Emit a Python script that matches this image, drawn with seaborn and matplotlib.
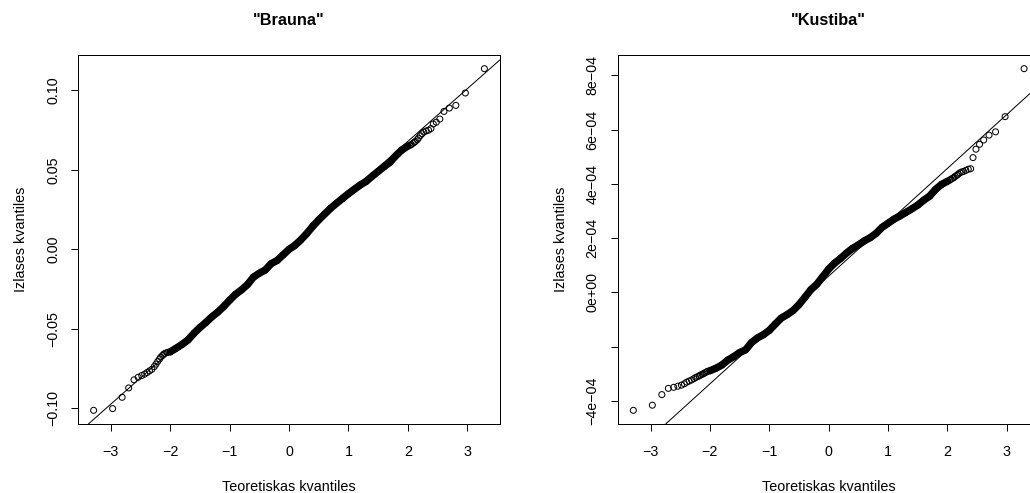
import numpy as np
import pandas as pd
import matplotlib
matplotlib.use("Agg")
import matplotlib.pyplot as plt
import seaborn as sns

# Theoretical normal quantiles (n = 1000) for the sparse tails, and the grid
# used for the dense middle section of each Q-Q plot.
theor_lo = [-3.29, -2.97, -2.81, -2.70, -2.61, -2.54, -2.48, -2.43, -2.39, -2.35,
            -2.31, -2.27, -2.24, -2.21, -2.18, -2.16, -2.13, -2.11, -2.09, -2.06, -2.04]
theor_core = [-2.0, -1.9, -1.8, -1.7, -1.6, -1.5, -1.4, -1.3, -1.2, -1.1, -1.0,
              -0.9, -0.8, -0.7, -0.6, -0.5, -0.4, -0.3, -0.2, -0.1, 0.0,
              0.1, 0.2, 0.3, 0.4, 0.5, 0.6, 0.7, 0.8, 0.9, 1.0,
              1.1, 1.2, 1.3, 1.4, 1.5, 1.6, 1.7, 1.8, 1.9, 2.0]
theor_hi = [2.04, 2.06, 2.09, 2.11, 2.13, 2.16, 2.18, 2.21, 2.24, 2.27, 2.31,
            2.35, 2.39, 2.43, 2.48, 2.54, 2.61, 2.70, 2.81, 2.97, 3.29]

# "Brauna" sample quantiles
brauna_lo = [-0.1013, -0.1002, -0.0931, -0.0872, -0.0821, -0.0805, -0.0794, -0.0785,
             -0.0775, -0.0765, -0.0755, -0.0738, -0.0722, -0.0705, -0.0690, -0.0678,
             -0.0668, -0.0660, -0.0655, -0.0650, -0.0648]
brauna_core = [-0.0645, -0.0622, -0.0598, -0.0570, -0.0528, -0.0492, -0.0460, -0.0425,
               -0.0395, -0.0360, -0.0320, -0.0283, -0.0255, -0.0222, -0.0175, -0.0150,
               -0.0130, -0.0090, -0.0070, -0.0035, 0.0000, 0.0025, 0.0060, 0.0100,
               0.0145, 0.0185, 0.0222, 0.0258, 0.0290, 0.0320, 0.0350, 0.0378, 0.0405,
               0.0428, 0.0460, 0.0490, 0.0520, 0.0548, 0.0590, 0.0625, 0.0650]
brauna_hi = [0.0655, 0.0660, 0.0668, 0.0674, 0.0680, 0.0690, 0.0700, 0.0715, 0.0728,
             0.0738, 0.0745, 0.0750, 0.0760, 0.0789, 0.0800, 0.0820, 0.0868, 0.0889,
             0.0906, 0.0984, 0.1137]

# "Kustiba" sample quantiles
kustiba_lo = [-4.35e-4, -4.16e-4, -3.77e-4, -3.54e-4, -3.50e-4, -3.46e-4, -3.42e-4,
              -3.37e-4, -3.31e-4, -3.27e-4, -3.23e-4, -3.18e-4, -3.14e-4, -3.11e-4,
              -3.08e-4, -3.05e-4, -3.02e-4, -3.00e-4, -2.97e-4, -2.94e-4, -2.91e-4]
kustiba_core = [-2.89e-4, -2.80e-4, -2.68e-4, -2.50e-4, -2.37e-4, -2.22e-4, -2.12e-4,
                -1.85e-4, -1.68e-4, -1.56e-4, -1.40e-4, -1.17e-4, -0.95e-4, -0.82e-4,
                -0.67e-4, -0.45e-4, -0.18e-4, 0.10e-4, 0.30e-4, 0.58e-4, 0.86e-4,
                1.08e-4, 1.25e-4, 1.45e-4, 1.62e-4, 1.75e-4, 1.90e-4, 2.02e-4, 2.18e-4,
                2.40e-4, 2.55e-4, 2.70e-4, 2.82e-4, 2.95e-4, 3.08e-4, 3.22e-4, 3.40e-4,
                3.55e-4, 3.80e-4, 3.98e-4, 4.10e-4]
kustiba_hi = [4.14e-4, 4.18e-4, 4.21e-4, 4.24e-4, 4.28e-4, 4.32e-4, 4.36e-4, 4.41e-4,
              4.44e-4, 4.46e-4, 4.50e-4, 4.54e-4, 4.56e-4, 4.97e-4, 5.28e-4, 5.46e-4,
              5.62e-4, 5.80e-4, 5.92e-4, 6.48e-4, 8.25e-4]

# Reference-line anchors: sample quartiles at the theoretical quartiles
theor_quartiles = [-0.6745, 0.6745]
brauna_quartiles = [-0.0205, 0.0241]
kustiba_quartiles = [-0.74e-4, 1.94e-4]

titles = ['"Brauna"', '"Kustiba"']
x_ticks = [-3, -2, -1, 0, 1, 2, 3]
brauna_yticks = [-0.10, -0.05, 0.00, 0.05, 0.10]
brauna_ylabels = ["\u22120.10", "\u22120.05", "0.00", "0.05", "0.10"]
kustiba_yticks = [-4e-4, -2e-4, 0.0, 2e-4, 4e-4, 6e-4, 8e-4]
kustiba_ylabels = ["\u22124e\u221204", "", "0e+00", "2e\u221204", "4e\u221204",
                   "6e\u221204", "8e\u221204"]

sns.set_theme(style="white")
plt.rcParams["font.family"] = ["Liberation Sans", "DejaVu Sans"]

PX = 0.72  # one pixel in points at 100 dpi
fig = plt.figure(figsize=(10.30, 4.93), dpi=100)
W, H = 1030.0, 493.0
axes = [fig.add_axes([78 / W, 69 / H, 422 / W, 369 / H]),
        fig.add_axes([617.7 / W, 69 / H, 422 / W, 369 / H])]


def build_frame(lo, core, hi):
    return pd.DataFrame({
        "theor": theor_lo + theor_core + theor_hi,
        "sample": lo + core + hi,
        "part": ["tail"] * len(lo) + ["core"] * len(core) + ["tail"] * len(hi),
    })


panels = [
    (build_frame(brauna_lo, brauna_core, brauna_hi), brauna_quartiles,
     brauna_yticks, brauna_ylabels),
    (build_frame(kustiba_lo, kustiba_core, kustiba_hi), kustiba_quartiles,
     kustiba_yticks, kustiba_ylabels),
]

for ax, title, (df, quart, yt, yl) in zip(axes, titles, panels):
    core = df[df["part"] == "core"]
    # overplotted middle section renders as a solid band
    sns.lineplot(data=core, x="theor", y="sample", ax=ax, sort=False, estimator=None,
                 color="black", linewidth=7.4 * PX, solid_capstyle="round")
    sns.scatterplot(data=df, x="theor", y="sample", ax=ax, marker="o",
                    facecolor="none", edgecolor="black", linewidth=1.0 * PX,
                    s=(6.0 * PX) ** 2)
    # Q-Q reference line through the quartiles
    ax.axline((theor_quartiles[0], quart[0]), (theor_quartiles[1], quart[1]),
              color="black", linewidth=1.0 * PX)

    xr = max(abs(min(df["theor"])), abs(max(df["theor"])))
    ax.set_xlim(-xr * 1.08, xr * 1.08)
    ymin, ymax = min(df["sample"]), max(df["sample"])
    pad = 0.04 * (ymax - ymin)
    ax.set_ylim(ymin - pad, ymax + pad)

    ax.set_xticks(x_ticks)
    ax.set_xticklabels(["\u2212" + str(abs(t)) if t < 0 else str(t) for t in x_ticks])
    ax.set_yticks(yt)
    ax.set_yticklabels(yl, rotation=90, va="center")

    ax.tick_params(axis="both", which="both", direction="out", length=7 * PX,
                   width=1.0 * PX, color="black", labelsize=14.2 * PX,
                   labelcolor="black", bottom=True, left=True)
    ax.tick_params(axis="x", pad=13.5 * PX)
    ax.tick_params(axis="y", pad=11 * PX)
    for sp in ax.spines.values():
        sp.set_visible(True)
        sp.set_color("black")
        sp.set_linewidth(1.0 * PX)

    ax.set_xlabel("Teoretiskas kvantiles", fontsize=14.4 * PX, color="black",
                  labelpad=21.5 * PX)
    ax.set_ylabel("Izlases kvantiles", fontsize=14.4 * PX, color="black",
                  labelpad=18 * PX)
    ax.set_title(title, fontsize=16.2 * PX, fontweight="bold", color="black",
                 pad=30 * PX)
    ax.grid(False)

fig.savefig("out.png", dpi=100, facecolor="white")
